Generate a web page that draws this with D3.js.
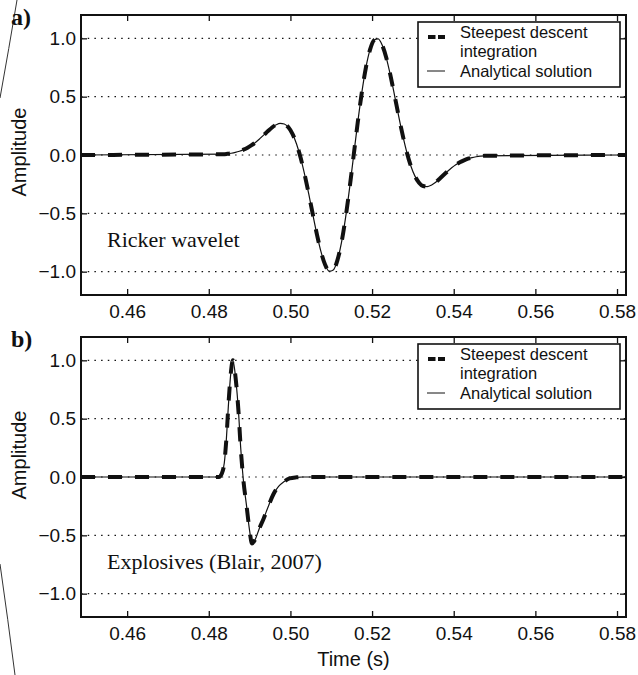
<!DOCTYPE html>
<html>
<head>
<meta charset="utf-8">
<script src="https://cdn.jsdelivr.net/npm/d3@7/dist/d3.min.js"></script>
<style>
  body { margin: 0; background: #fff; }
  text { font-family: "Liberation Sans", Arial, sans-serif; fill: #111; }
  .serif { font-family: "Liberation Serif", "Times New Roman", serif; }
</style>
</head>
<body>
<script>
// ---- data ----
var xTicks = [0.46, 0.48, 0.50, 0.52, 0.54, 0.56, 0.58];
var yTicks = [-1.0, -0.5, 0.0, 0.5, 1.0];
var panelLabels = ["a)", "b)"];
var panelNotes = ["Ricker wavelet", "Explosives (Blair, 2007)"];
var legendSteepest = ["Steepest descent", "integration"];
var legendAnalytic = "Analytical solution";

// a) Ricker wavelet
var rickerTime = [0.4487,
  0.4835, 0.4845, 0.4855, 0.4865, 0.4875, 0.4885, 0.4895, 0.4905, 0.4915, 0.4925, 0.4935,
  0.4945, 0.4955, 0.4965, 0.4975, 0.4985, 0.4995, 0.5005, 0.5015, 0.5025, 0.5035, 0.5045,
  0.5055, 0.5065, 0.5075, 0.5085, 0.5095, 0.5105, 0.5115, 0.5125, 0.5135, 0.5145, 0.5155,
  0.5165, 0.5175, 0.5185, 0.5195, 0.5205, 0.5215, 0.5225, 0.5235, 0.5245, 0.5255, 0.5265,
  0.5275, 0.5285, 0.5295, 0.5305, 0.5315, 0.5325, 0.5335, 0.5345, 0.5355, 0.5365, 0.5375,
  0.5385, 0.5395, 0.5405, 0.5415, 0.5425, 0.5435, 0.5445, 0.5455, 0.5465, 0.5475,
  0.5822];
var rickerAnalytic = [0,
  0.007, 0.010, 0.015, 0.022, 0.032, 0.046, 0.063, 0.084, 0.110, 0.140, 0.172,
  0.205, 0.236, 0.259, 0.271, 0.266, 0.237, 0.181, 0.094, -0.024, -0.170, -0.336,
  -0.512, -0.682, -0.831, -0.940, -0.996, -0.985, -0.903, -0.752, -0.539, -0.282, 0,
  0.282, 0.539, 0.752, 0.903, 0.985, 0.996, 0.940, 0.831, 0.682, 0.512, 0.336,
  0.170, 0.024, -0.094, -0.181, -0.237, -0.266, -0.271, -0.259, -0.236, -0.205, -0.172,
  -0.140, -0.110, -0.084, -0.063, -0.046, -0.032, -0.022, -0.015, -0.010, -0.007,
  0];
var rickerSteepest = rickerAnalytic.slice();

// b) Explosives (Blair, 2007)
var blairTime = [0.4487, 0.4825, 0.4832, 0.4838, 0.4843, 0.4848, 0.4854, 0.4859, 0.4866,
  0.4873, 0.4878, 0.4884, 0.4893, 0.4900, 0.4906, 0.4913, 0.4924, 0.4934, 0.4946, 0.4958,
  0.4971, 0.4984, 0.4998, 0.5015, 0.5030, 0.5822];
var blairAnalytic = [0, 0, 0.03, 0.12, 0.32, 0.61, 0.89, 1.00, 0.84,
  0.55, 0.26, 0.00, -0.26, -0.46, -0.57, -0.54, -0.44, -0.36, -0.25, -0.15,
  -0.08, -0.04, -0.012, -0.003, 0, 0];
var blairSteepest = blairAnalytic.slice();

// ---- layout ----
var W = 638, H = 675;
var LEFT = 81, RIGHT = 626, PH = 280;
var TICK = 6;

var svg = d3.select("body").append("svg")
    .attr("width", W)
    .attr("height", H);

var x = d3.scaleLinear().domain([0.4487, 0.5822]).range([LEFT, RIGHT]);

var panels = [
    { top: 15, time: rickerTime, steep: rickerSteepest, exact: rickerAnalytic, ampY: 152 },
    { top: 337, time: blairTime, steep: blairSteepest, exact: blairAnalytic, ampY: 455 }
];

// edge of the scanned page
svg.append("path")
    .attr("d", "M17,0 Q9,48 0,98 M0,564 Q8,620 15,675")
    .attr("fill", "none")
    .attr("stroke", "#333")
    .attr("stroke-width", 1);

panels.forEach(function(p, i) {
    var y = d3.scaleLinear().domain([-1.2, 1.2]).range([p.top + PH, p.top]);
    var g = svg.append("g");

    g.append("clipPath").attr("id", "clip" + i)
        .append("rect")
        .attr("x", LEFT).attr("y", p.top)
        .attr("width", RIGHT - LEFT).attr("height", PH);

    // dotted horizontal grid
    g.selectAll(".grid")
        .data(yTicks)
        .enter().append("line")
        .attr("class", "grid")
        .attr("x1", LEFT).attr("x2", RIGHT)
        .attr("y1", function(d) { return y(d); })
        .attr("y2", function(d) { return y(d); })
        .attr("stroke", "#111")
        .attr("stroke-width", 1.1)
        .attr("stroke-dasharray", "1.5,5.2");

    var line = d3.line()
        .x(function(d, k) { return x(p.time[k]); })
        .y(function(d) { return y(d); })
        .curve(d3.curveMonotoneX);

    var curves = g.append("g").attr("clip-path", "url(#clip" + i + ")");
    curves.append("path")
        .attr("d", line(p.steep))
        .attr("fill", "none")
        .attr("stroke", "#111")
        .attr("stroke-width", 4)
        .attr("stroke-dasharray", "14,13");
    curves.append("path")
        .attr("d", line(p.exact))
        .attr("fill", "none")
        .attr("stroke", "#111")
        .attr("stroke-width", 1.2);

    // axes, ticks pointing inward
    var fmtX = d3.format(".2f");
    var fmtY = d3.format(".1f");
    var ax = [
        g.append("g").attr("transform", "translate(0," + (p.top + PH) + ")")
            .call(d3.axisBottom(x).tickValues(xTicks).tickSize(-TICK).tickPadding(10).tickFormat(fmtX)),
        g.append("g").attr("transform", "translate(0," + p.top + ")")
            .call(d3.axisTop(x).tickValues(xTicks).tickSize(-TICK).tickFormat("")),
        g.append("g").attr("transform", "translate(" + LEFT + ",0)")
            .call(d3.axisLeft(y).tickValues(yTicks).tickSize(-TICK).tickPadding(5).tickFormat(fmtY)),
        g.append("g").attr("transform", "translate(" + RIGHT + ",0)")
            .call(d3.axisRight(y).tickValues(yTicks).tickSize(-TICK).tickFormat(""))
    ];
    ax.forEach(function(a) {
        a.select(".domain").remove();
        a.selectAll(".tick line").attr("stroke", "#111").attr("stroke-width", 1.3);
        a.selectAll(".tick text")
            .style("font-family", '"Liberation Sans", Arial, sans-serif')
            .style("font-size", "19px")
            .attr("fill", "#111");
    });

    // legend
    var lg = g.append("g").attr("transform", "translate(418," + (p.top + 7) + ")");
    lg.append("rect")
        .attr("width", 202).attr("height", 65)
        .attr("fill", "#fff")
        .attr("stroke", "#111")
        .attr("stroke-width", 1.6);
    lg.append("line")
        .attr("x1", 10).attr("x2", 27).attr("y1", 15).attr("y2", 15)
        .attr("stroke", "#111").attr("stroke-width", 4)
        .attr("stroke-dasharray", "7.5,2.5");
    lg.append("line")
        .attr("x1", 9).attr("x2", 27).attr("y1", 49).attr("y2", 49)
        .attr("stroke", "#111").attr("stroke-width", 1);
    lg.selectAll(".lbl")
        .data([legendSteepest[0], legendSteepest[1], legendAnalytic])
        .enter().append("text")
        .attr("x", 42)
        .attr("y", function(d, k) { return [16, 35, 55][k]; })
        .style("font-size", "16.5px")
        .text(function(d) { return d; });

    // border
    g.append("rect")
        .attr("x", LEFT).attr("y", p.top)
        .attr("width", RIGHT - LEFT).attr("height", PH)
        .attr("fill", "none")
        .attr("stroke", "#111")
        .attr("stroke-width", 2);

    // panel letter and annotation
    g.append("text")
        .attr("class", "serif")
        .attr("x", 11).attr("y", p.top + 10)
        .style("font-size", "24px")
        .style("font-weight", "bold")
        .text(panelLabels[i]);
    g.append("text")
        .attr("class", "serif")
        .attr("x", 107).attr("y", p.top + 232)
        .style("font-size", "22px")
        .attr("fill", "#222")
        .text(panelNotes[i]);

    g.append("text")
        .attr("transform", "translate(26," + p.ampY + ") rotate(-90)")
        .attr("text-anchor", "middle")
        .style("font-size", "20px")
        .text("Amplitude");
});

svg.append("text")
    .attr("x", (LEFT + RIGHT) / 2)
    .attr("y", 666)
    .attr("text-anchor", "middle")
    .style("font-size", "20px")
    .text("Time (s)");
</script>
</body>
</html>
